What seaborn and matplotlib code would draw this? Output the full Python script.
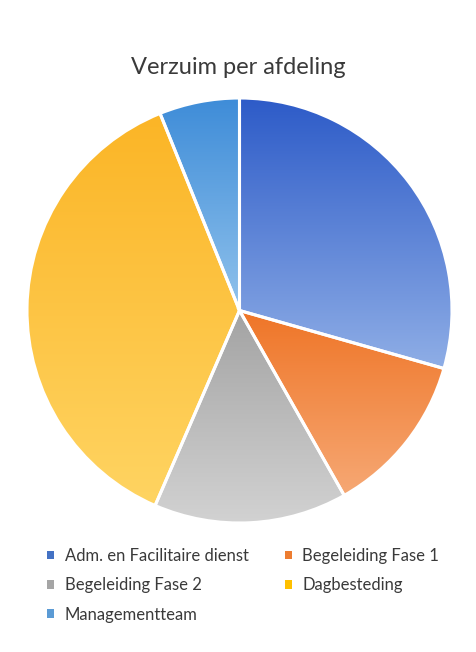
import numpy as np
import matplotlib
matplotlib.use("Agg")
import matplotlib.pyplot as plt
from matplotlib.colors import LinearSegmentedColormap
from matplotlib.patches import Patch
import seaborn as sns

sns.set_theme(style="white")
plt.rcParams['font.family'] = ['Lato', 'DejaVu Sans']

# ---- data ----
afdelingen = ["Adm. en Facilitaire dienst", "Begeleiding Fase 1", "Begeleiding Fase 2",
              "Dagbesteding", "Managementteam"]
verzuim = [29.4, 12.4, 14.7, 37.4, 6.1]

# base colour + gradient (top -> bottom) per slice
base_colors = ["#4472C4", "#ED7D31", "#A5A5A5", "#FFC000", "#5B9BD5"]
top_colors = ["#2D5BC8", "#EF7527", "#A3A3A3", "#FBB526", "#3E8CD8"]
bottom_colors = ["#8FAEE6", "#F6A874", "#D2D2D2", "#FFD462", "#90C2EC"]

fig = plt.figure(figsize=(4.77, 6.52), dpi=100)
fig.patch.set_facecolor("white")
ax = fig.add_axes([27 / 477, 1 - 523 / 652, 425 / 477, 425 / 652])

wedges, _ = ax.pie(verzuim, startangle=90, counterclock=False, colors=base_colors,
                   wedgeprops=dict(edgecolor="white", linewidth=2.2))

# gradient fill, clipped to each wedge
for w, c0, c1 in zip(wedges, top_colors, bottom_colors):
    t = np.radians(np.linspace(w.theta1, w.theta2, 200))
    ys = np.concatenate([[0], np.sin(t)])
    xs = np.concatenate([[0], np.cos(t)])
    cmap = LinearSegmentedColormap.from_list("g", [c1, c0])
    grad = np.linspace(0, 1, 256).reshape(-1, 1)
    im = ax.imshow(grad, cmap=cmap, origin="lower", aspect="auto",
                   extent=[xs.min(), xs.max(), ys.min(), ys.max()], zorder=2)
    im.set_clip_path(w)
    w.set_facecolor("none")
    w.set_zorder(3)

ax.set_xlim(-1.0, 1.0)
ax.set_ylim(-1.0, 1.0)
ax.set_aspect("equal")
ax.axis("off")

fig.text(0.5, 1 - 67 / 652, "Verzuim per afdeling", ha="center", va="center",
         fontsize=17, color="#3a3a3a")

# legend, row-major order like the original
order = [0, 2, 4, 1, 3]
handles = [Patch(facecolor=base_colors[i], edgecolor="none") for i in order]
labels = [afdelingen[i] for i in order]
fig.legend(handles, labels, ncol=2, loc="upper left",
           bbox_to_anchor=(32 / 477, 1 - 533 / 652), frameon=False,
           fontsize=12, labelcolor="#3a3a3a", handlelength=0.42, handleheight=0.42,
           handletextpad=0.65, labelspacing=0.8, columnspacing=2.15)

fig.savefig("out.png", dpi=100, facecolor="white")
